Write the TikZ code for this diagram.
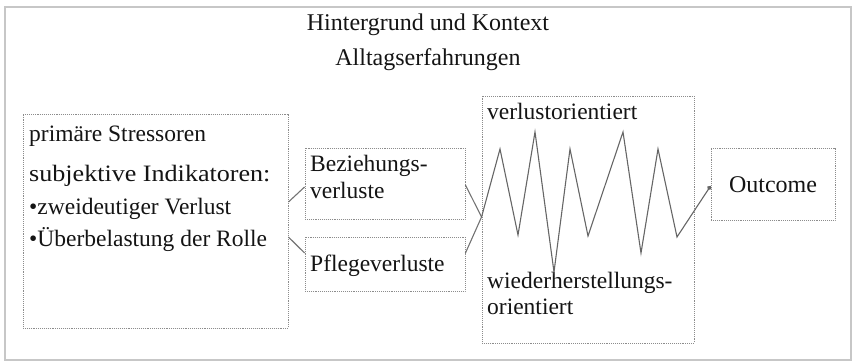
\documentclass[tikz,border=0pt]{standalone}
\usepackage{fontspec}
\setmainfont{Liberation Serif}
\usetikzlibrary{arrows.meta,positioning}

\begin{document}
\begin{tikzpicture}[
  x=1pt, y=-1pt,
  frame/.style={draw=black!22, line width=2pt},
  box/.style={draw=black!45, densely dotted, line width=0.9pt, inner sep=0pt},
  txt/.style={anchor=base west, inner sep=0pt, text=black!92,
              font=\fontsize{23.5}{27}\selectfont},
  ttl/.style={anchor=base, inner sep=0pt, text=black!92,
              font=\fontsize{24}{28}\selectfont},
  lnk/.style={draw=black!55, line width=1.1pt},
  zig/.style={-{Circle[length=4.5pt]}, draw=black!60, line width=1.1pt}]

\useasboundingbox (0,0) rectangle (852,361);
\draw[frame] (5,7) rectangle (851,360);

\node[ttl] (ttl1) at (428,31) {Hintergrund und Kontext};
\node[ttl] (ttl2) at (428,66) {Alltagserfahrungen};

% boxes
\node[box, minimum width=265pt, minimum height=214pt] (stress) at (155.5,221) {};
\node[box, minimum width=160pt, minimum height=71pt]  (bez)    at (385,183.5) {};
\node[box, minimum width=160pt, minimum height=54pt]  (pfl)    at (385,264) {};
\node[box, minimum width=212pt, minimum height=247pt] (osc)    at (588,219.5) {};
\node[box, minimum width=124pt, minimum height=72pt]  (outc)   at (773,184) {};

% texts
\node[txt] (t1) at (29,141) {primäre Stressoren};
\node[txt, xscale=1.11, transform shape] (t2) at (29,181) {subjektive Indikatoren:};
\node[txt] (t3) at (29,214) {•zweideutiger Verlust};
\node[txt] (t4) at (29,246) {•Überbelastung der Rolle};
\node[txt] (b1) at (310,171) {Beziehungs-};
\node[txt] (b2) at (310,198) {verluste};
\node[txt] (p1) at (310,271) {Pflegeverluste};
\node[txt] (v1) at (487,119) {verlustorientiert};
\node[txt] (w1) at (487,288) {wiederherstellungs-};
\node[txt] (w2) at (487,314) {orientiert};
\node[ttl] (o1) at (773,192) {Outcome};

% links
\coordinate (junc) at ([yshift=2.5pt]osc.west);
\draw[lnk] ([yshift=19pt]stress.east) -- ([yshift=-3.5pt]bez.west);
\draw[lnk] ([yshift=-16pt]stress.east) -- ([yshift=11pt]pfl.west);
\draw[lnk] ([yshift=-1.5pt]bez.east) -- (junc);
\draw[lnk] ([yshift=11pt]pfl.east) -- (junc);
\draw[zig] (junc) -- (500,149) -- (518,235) -- (535,132) -- (554,272)
  -- (570,149) -- (588,236) -- (623,132) -- (641,253) -- (658,149)
  -- (677,237) -- ([yshift=-2pt]outc.west);
\end{tikzpicture}
\end{document}
